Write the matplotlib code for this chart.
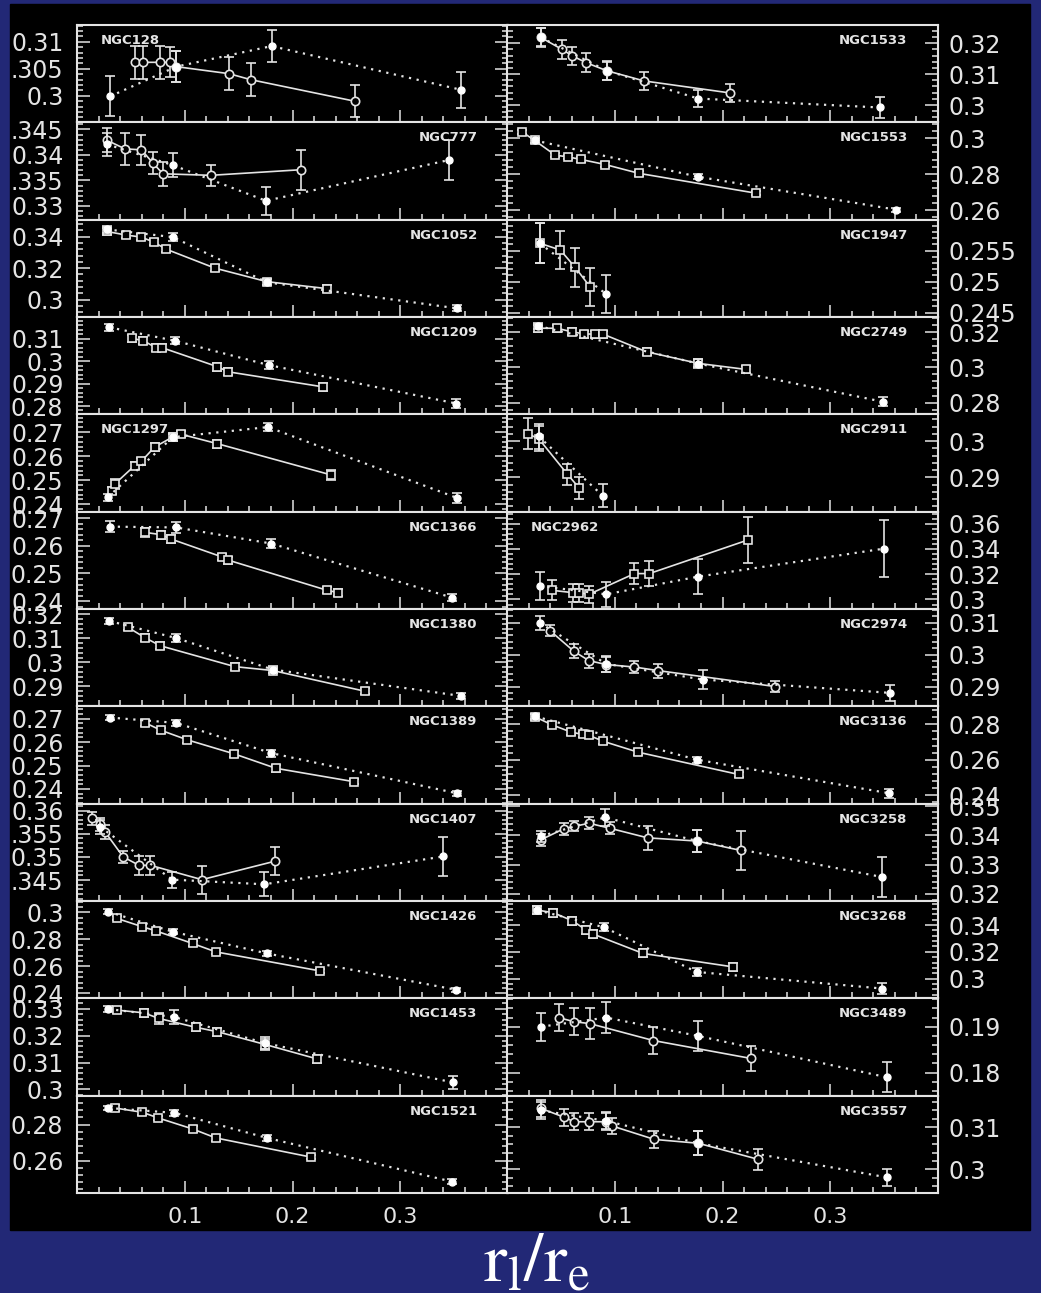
import matplotlib
matplotlib.use("Agg")
import matplotlib.pyplot as plt
from matplotlib.ticker import MultipleLocator, AutoMinorLocator

# -----------------------------
# Data: 24 galaxies, left column first then right column
# -----------------------------
names = ["NGC128", "NGC777", "NGC1052", "NGC1209", "NGC1297", "NGC1366",
         "NGC1380", "NGC1389", "NGC1407", "NGC1426", "NGC1453", "NGC1521",
         "NGC1533", "NGC1553", "NGC1947", "NGC2749", "NGC2911", "NGC2962",
         "NGC2974", "NGC3136", "NGC3258", "NGC3268", "NGC3489", "NGC3557"]

# solid line, open symbols
solid_x = [
    [0.0535, 0.061, 0.0765, 0.0857, 0.092, 0.141, 0.161, 0.258],
    [0.0274, 0.0442, 0.0596, 0.0703, 0.0796, 0.124, 0.208],
    [0.0274, 0.0452, 0.0596, 0.071, 0.0826, 0.128, 0.1763, 0.2316],
    [0.0504, 0.0611, 0.0734, 0.079, 0.1302, 0.1404, 0.2286],
    [0.032, 0.035, 0.0535, 0.0596, 0.0719, 0.0888, 0.0965, 0.130, 0.2357],
    [0.0633, 0.078, 0.0873, 0.1343, 0.1404, 0.2316, 0.2424],
    [0.0473, 0.0627, 0.0771, 0.1465, 0.1816, 0.267],
    [0.0633, 0.078, 0.102, 0.1456, 0.1846, 0.2569],
    [0.0135, 0.0212, 0.0258, 0.0427, 0.0574, 0.0679, 0.1158, 0.184],
    [0.0366, 0.0605, 0.0728, 0.1072, 0.1287, 0.2255],
    [0.0372, 0.0618, 0.0759, 0.1102, 0.130, 0.1748, 0.2224],
    [0.035, 0.0605, 0.0749, 0.1072, 0.1287, 0.2172],
    [0.031, 0.0509, 0.0605, 0.0733, 0.0925, 0.1271, 0.2073],
    [0.0140, 0.0253, 0.0445, 0.0567, 0.0685, 0.0909, 0.1223, 0.2310],
    [0.0301, 0.0493, 0.0631, 0.0772],
    [0.0285, 0.0461, 0.0599, 0.0717, 0.0813, 0.0887, 0.1294, 0.1774, 0.2214],
    [0.0189, 0.0291, 0.0557, 0.0669],
    [0.0413, 0.0611, 0.0663, 0.0759, 0.1182, 0.1320, 0.2233],
    [0.0397, 0.0621, 0.0759, 0.0919, 0.1182, 0.1400, 0.2489],
    [0.0259, 0.0413, 0.0589, 0.0701, 0.0759, 0.0893, 0.1214, 0.2149],
    [0.031, 0.0525, 0.0621, 0.0759, 0.0951, 0.1304, 0.1765, 0.2169],
    [0.0278, 0.0429, 0.0605, 0.0733, 0.0797, 0.1262, 0.2095],
    [0.0477, 0.0621, 0.0765, 0.1358, 0.2265],
    [0.031, 0.0525, 0.0621, 0.0759, 0.0919, 0.0974, 0.1368, 0.1774, 0.2329],
]
solid_y = [
    [0.3062, 0.3062, 0.3062, 0.3062, 0.3054, 0.3041, 0.3030, 0.2990],
    [0.3429, 0.3412, 0.3410, 0.3384, 0.3363, 0.3360, 0.3371],
    [0.3434, 0.3411, 0.3398, 0.3366, 0.3321, 0.3200, 0.3114, 0.3070],
    [0.3101, 0.3091, 0.3059, 0.3059, 0.2975, 0.2952, 0.2885],
    [0.2457, 0.2485, 0.2561, 0.2579, 0.2638, 0.2680, 0.2691, 0.2652, 0.2522],
    [0.2648, 0.2640, 0.2624, 0.2560, 0.2548, 0.2440, 0.2431],
    [0.3145, 0.3103, 0.3069, 0.2982, 0.2966, 0.2880],
    [0.2682, 0.2650, 0.2610, 0.2550, 0.2488, 0.2431],
    [0.3583, 0.3570, 0.3554, 0.3500, 0.3482, 0.3482, 0.3451, 0.3491],
    [0.2956, 0.2894, 0.2864, 0.2770, 0.2708, 0.2567],
    [0.3295, 0.3285, 0.3264, 0.3231, 0.3215, 0.3167, 0.3114],
    [0.2893, 0.2869, 0.2838, 0.2776, 0.2726, 0.2619],
    [0.3219, 0.3180, 0.3159, 0.3137, 0.3111, 0.3078, 0.3039],
    [0.3033, 0.2987, 0.2905, 0.2895, 0.2881, 0.2853, 0.2804, 0.2694],
    [0.2562, 0.2551, 0.2523, 0.2491],
    [0.3223, 0.3223, 0.3203, 0.3190, 0.3190, 0.3190, 0.3089, 0.3023, 0.2989],
    [0.3020, 0.3007, 0.2909, 0.2870],
    [0.3073, 0.3054, 0.3054, 0.3041, 0.3205, 0.3205, 0.3470],
    [0.3075, 0.3010, 0.2981, 0.2969, 0.2961, 0.2950, 0.2900],
    [0.2842, 0.2798, 0.2757, 0.2743, 0.2738, 0.2704, 0.2643, 0.2517],
    [0.3385, 0.3423, 0.3431, 0.3442, 0.3425, 0.3392, 0.3381, 0.3349],
    [0.3512, 0.3492, 0.3432, 0.3363, 0.3333, 0.3188, 0.3088],
    [0.1920, 0.1911, 0.1907, 0.1870, 0.1831],
    [0.3145, 0.3124, 0.3113, 0.3113, 0.3113, 0.3103, 0.3071, 0.3062, 0.3024],
]
solid_err = [
    [0.003, 0.003, 0.003, 0.0028, 0.0028, 0.003, 0.003, 0.003],
    [0.0023, 0.0031, 0.0029, 0.0021, 0.0023, 0.0021, 0.0039],
    [0.002, 0.002, 0.002, 0.002, 0.002, 0.002, 0.002, 0.002],
    [0.0015, 0.0015, 0.0015, 0.0015, 0.0018, 0.0015, 0.0018],
    [0.0015, 0.002, 0.0015, 0.0015, 0.0015, 0.0015, 0.0012, 0.0017, 0.0022],
    [0.0015, 0.0015, 0.0015, 0.0012, 0.0012, 0.0012, 0.0012],
    [0.0012, 0.0015, 0.0015, 0.0015, 0.0012, 0.0012],
    [0.0012, 0.0012, 0.0012, 0.0012, 0.0015, 0.0012],
    [0.0015, 0.0015, 0.0015, 0.0013, 0.002, 0.002, 0.003, 0.003],
    [0.0015, 0.0015, 0.0015, 0.0015, 0.0015, 0.0015],
    [0.0012, 0.0015, 0.002, 0.0015, 0.0015, 0.002, 0.0015],
    [0.0017, 0.0015, 0.0012, 0.0015, 0.0015, 0.0012],
    [0.003, 0.003, 0.003, 0.003, 0.003, 0.003, 0.003],
    [0.0012, 0.0012, 0.0012, 0.0012, 0.0012, 0.0012, 0.0012, 0.0012],
    [0.0032, 0.0031, 0.0031, 0.0031],
    [0.002, 0.002, 0.002, 0.002, 0.002, 0.002, 0.002, 0.002, 0.002],
    [0.0043, 0.0035, 0.0029, 0.003],
    [0.008, 0.007, 0.007, 0.0065, 0.0086, 0.01, 0.018],
    [0.0018, 0.0022, 0.0022, 0.0022, 0.0018, 0.0022, 0.0018],
    [0.0015, 0.0015, 0.0015, 0.0015, 0.0015, 0.0015, 0.0015, 0.0015],
    [0.002, 0.002, 0.0017, 0.002, 0.002, 0.0042, 0.0037, 0.0067],
    [0.003, 0.003, 0.003, 0.003, 0.003, 0.003, 0.003],
    [0.0029, 0.0029, 0.0033, 0.003, 0.0028],
    [0.002, 0.002, 0.002, 0.002, 0.002, 0.002, 0.002, 0.0028, 0.0025],
]

# dotted line, filled symbols
dot_x = [
    [0.0304, 0.092, 0.1806, 0.357],
    [0.0274, 0.0888, 0.1754, 0.3453],
    [0.0274, 0.0888, 0.1763, 0.353],
    [0.0298, 0.091, 0.178, 0.3524],
    [0.0283, 0.0888, 0.1773, 0.353],
    [0.0304, 0.0919, 0.1803, 0.3484],
    [0.0298, 0.0919, 0.1816, 0.357],
    [0.0304, 0.0919, 0.1803, 0.353],
    [0.0212, 0.0882, 0.1739, 0.340],
    [0.0289, 0.0888, 0.1763, 0.3515],
    [0.0289, 0.0895, 0.1748, 0.3493],
    [0.0289, 0.0903, 0.1763, 0.3484],
    [0.031, 0.0925, 0.1774, 0.3463],
    [0.0253, 0.1774, 0.3617],
    [0.0301, 0.0919],
    [0.0285, 0.1774, 0.3495],
    [0.0291, 0.0887],
    [0.0301, 0.0919, 0.1774, 0.3505],
    [0.0301, 0.0919, 0.1816, 0.3559],
    [0.0259, 0.1765, 0.3546],
    [0.031, 0.0909, 0.1765, 0.3482],
    [0.0278, 0.0900, 0.1759, 0.3482],
    [0.031, 0.0919, 0.1774, 0.3527],
    [0.031, 0.0919, 0.1774, 0.3527],
]
dot_y = [
    [0.2999, 0.3054, 0.3092, 0.3011],
    [0.3421, 0.3380, 0.3310, 0.3390],
    [0.3447, 0.3398, 0.3110, 0.2944],
    [0.3150, 0.3090, 0.2982, 0.2811],
    [0.2429, 0.2679, 0.2721, 0.2426],
    [0.2669, 0.2666, 0.2608, 0.2413],
    [0.3172, 0.3101, 0.2970, 0.2860],
    [0.2705, 0.2682, 0.2553, 0.2381],
    [0.3565, 0.3451, 0.3441, 0.3501],
    [0.3005, 0.2857, 0.2696, 0.2428],
    [0.3299, 0.3270, 0.3172, 0.3026],
    [0.2893, 0.2866, 0.2726, 0.2482],
    [0.3219, 0.3111, 0.3021, 0.2992],
    [0.2987, 0.2785, 0.2602],
    [0.2562, 0.2480],
    [0.3236, 0.3022, 0.2804],
    [0.3013, 0.2849],
    [0.3107, 0.3041, 0.3181, 0.3403],
    [0.3100, 0.2971, 0.2922, 0.2880],
    [0.2845, 0.2600, 0.2411],
    [0.3397, 0.3462, 0.3381, 0.3258],
    [0.3512, 0.3383, 0.3050, 0.2926],
    [0.1900, 0.1920, 0.1880, 0.1790],
    [0.3140, 0.3115, 0.3062, 0.2981],
]
dot_err = [
    [0.0037, 0.0028, 0.003, 0.0033],
    [0.0023, 0.0023, 0.0027, 0.0039],
    [0.002, 0.0025, 0.002, 0.002],
    [0.0015, 0.0015, 0.0018, 0.0018],
    [0.0015, 0.0015, 0.0018, 0.0022],
    [0.0019, 0.0019, 0.0017, 0.0012],
    [0.0012, 0.0015, 0.0015, 0.0012],
    [0.0012, 0.0012, 0.0015, 0.0012],
    [0.0015, 0.0017, 0.0026, 0.0043],
    [0.002, 0.002, 0.002, 0.0015],
    [0.0012, 0.0025, 0.0022, 0.0025],
    [0.0012, 0.0015, 0.0017, 0.0015],
    [0.0029, 0.0029, 0.0029, 0.0034],
    [0.0015, 0.0015, 0.0012],
    [0.0032, 0.0031],
    [0.0015, 0.0025, 0.0025],
    [0.0035, 0.0032],
    [0.0113, 0.01, 0.0136, 0.0228],
    [0.0022, 0.0025, 0.003, 0.0025],
    [0.0015, 0.0017, 0.0025],
    [0.002, 0.003, 0.0037, 0.0067],
    [0.003, 0.003, 0.003, 0.004],
    [0.0031, 0.0033, 0.0033, 0.0033],
    [0.002, 0.002, 0.0028, 0.002],
]

y_limits = [
    (0.2951, 0.3131), (0.3273, 0.3464), (0.2889, 0.3509), (0.2763, 0.3196),
    (0.2369, 0.2774), (0.2372, 0.2723), (0.2817, 0.3222), (0.2337, 0.2753),
    (0.3405, 0.3615), (0.2364, 0.3085), (0.2977, 0.3339), (0.2419, 0.2962),
    (0.2944, 0.3259), (0.2547, 0.3087), (0.2443, 0.2600), (0.2733, 0.3287),
    (0.2805, 0.3074), (0.2925, 0.3695), (0.2838, 0.3143), (0.2352, 0.2902),
    (0.3176, 0.3509), (0.2853, 0.3580), (0.1750, 0.1962), (0.2944, 0.3175),
]
y_ticks = [
    [0.30, 0.305, 0.31], [0.33, 0.335, 0.34, 0.345], [0.30, 0.32, 0.34],
    [0.28, 0.29, 0.30, 0.31], [0.24, 0.25, 0.26, 0.27], [0.24, 0.25, 0.26, 0.27],
    [0.29, 0.30, 0.31, 0.32], [0.24, 0.25, 0.26, 0.27], [0.345, 0.35, 0.355, 0.36],
    [0.24, 0.26, 0.28, 0.30], [0.30, 0.31, 0.32, 0.33], [0.26, 0.28],
    [0.30, 0.31, 0.32], [0.26, 0.28, 0.30], [0.245, 0.25, 0.255],
    [0.28, 0.30, 0.32], [0.29, 0.30], [0.30, 0.32, 0.34, 0.36],
    [0.29, 0.30, 0.31], [0.24, 0.26, 0.28], [0.32, 0.33, 0.34, 0.35],
    [0.30, 0.32, 0.34], [0.18, 0.19], [0.30, 0.31],
]
y_ticklabels = [
    ["0.3", ".305", "0.31"], ["0.33", ".335", "0.34", ".345"], ["0.3", "0.32", "0.34"],
    ["0.28", "0.29", "0.3", "0.31"], ["0.24", "0.25", "0.26", "0.27"], ["0.24", "0.25", "0.26", "0.27"],
    ["0.29", "0.3", "0.31", "0.32"], ["0.24", "0.25", "0.26", "0.27"], [".345", "0.35", ".355", "0.36"],
    ["0.24", "0.26", "0.28", "0.3"], ["0.3", "0.31", "0.32", "0.33"], ["0.26", "0.28"],
    ["0.3", "0.31", "0.32"], ["0.26", "0.28", "0.3"], ["0.245", "0.25", "0.255"],
    ["0.28", "0.3", "0.32"], ["0.29", "0.3"], ["0.3", "0.32", "0.34", "0.36"],
    ["0.29", "0.3", "0.31"], ["0.24", "0.26", "0.28"], ["0.32", "0.33", "0.34", "0.35"],
    ["0.3", "0.32", "0.34"], ["0.18", "0.19"], ["0.3", "0.31"],
]
x_ticks = [0.1, 0.2, 0.3]

# -----------------------------
# Style
# -----------------------------
fg = "#e4e4e4"
solid_markers = ["o", "o", "s", "s", "s", "s", "s", "s", "o", "s", "s", "s",
                 "o", "s", "s", "s", "s", "s", "o", "s", "o", "s", "o", "o"]
label_left = ["NGC128", "NGC1297", "NGC2962"]

plt.rcParams["mathtext.fontset"] = "stix"
plt.rcParams["font.family"] = "DejaVu Sans"

W, H = 1041.0, 1293.0
fig = plt.figure(figsize=(W / 100, H / 100), dpi=100)
fig.patch.set_facecolor("#222876")
fig.add_artist(plt.Rectangle((10 / W, 1 - 1230 / H), 1020 / W, 1226 / H,
                             transform=fig.transFigure, color="black", zorder=0))

col_left = [77.3, 507.3]
col_width = 430.4
row_top = 25.0
row_h = 97.33

for i, name in enumerate(names):
    col = i // 12
    row = i % 12
    top = row_top + row * row_h
    ax = fig.add_axes([col_left[col] / W, 1 - (top + row_h) / H, col_width / W, row_h / H])
    ax.set_facecolor("black")

    # solid line, open symbols
    ax.errorbar(solid_x[i], solid_y[i], yerr=solid_err[i], color=fg, lw=1.2,
                marker=solid_markers[i], ms=6, mfc="black", mec=fg, mew=1.2,
                elinewidth=1.2, capsize=3.5, capthick=1.2, zorder=3)
    # dotted line, filled symbols
    ax.errorbar(dot_x[i], dot_y[i], yerr=dot_err[i], color=fg, lw=1.6,
                ls=(0, (1, 2.5)), marker="o", ms=5, mfc="white", mec="white",
                elinewidth=1.2, capsize=3.5, capthick=1.2, zorder=4)

    ax.set_xlim(0, 0.4)
    ax.set_ylim(y_limits[i])
    ax.set_xticks(x_ticks)
    ax.set_xticklabels([str(t) for t in x_ticks])
    ax.xaxis.set_minor_locator(MultipleLocator(0.02))
    ax.set_yticks(y_ticks[i])
    ax.set_yticklabels(y_ticklabels[i])
    ax.yaxis.set_minor_locator(AutoMinorLocator(5))

    for sp in ax.spines.values():
        sp.set_color(fg)
        sp.set_linewidth(1.5)

    ax.tick_params(axis="y", which="both", direction="in", left=True, right=True,
                   labelleft=(col == 0), labelright=(col == 1), colors=fg,
                   labelsize=17, width=1.1)
    ax.tick_params(axis="y", which="major", length=9.5, pad=10 if col == 0 else 8)
    ax.tick_params(axis="y", which="minor", length=4.5)
    ax.tick_params(axis="x", which="both", direction="in", bottom=True, top=False,
                   labelbottom=(row == 11), colors=fg, labelsize=16, width=1.1)
    ax.tick_params(axis="x", which="major", length=8.3, pad=10)
    ax.tick_params(axis="x", which="minor", length=4)

    if name in label_left:
        ax.text(0.054, 0.84, name, transform=ax.transAxes, ha="left", va="center",
                fontsize=9.5, fontweight="bold", color=fg, zorder=6)
    else:
        ax.text(0.93, 0.84, name, transform=ax.transAxes, ha="right", va="center",
                fontsize=9.5, fontweight="bold", color=fg, zorder=6)

fig.text(537 / W, 1 - 1262 / H, r"$\mathrm{r_l/r_e}$", fontsize=50, color="white",
         ha="center", va="center")

fig.savefig("out.png", dpi=100, facecolor=fig.get_facecolor())
